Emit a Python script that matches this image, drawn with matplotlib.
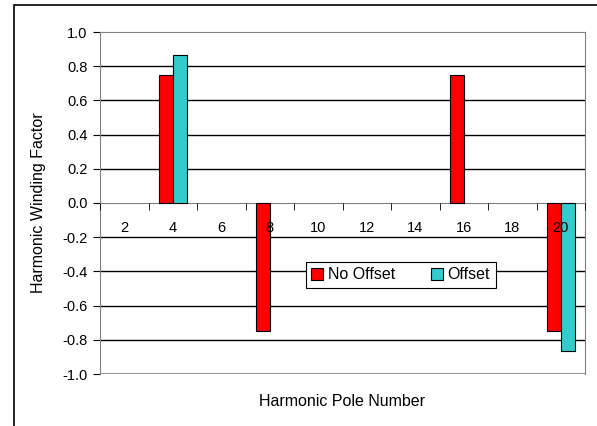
import numpy as np
import matplotlib
matplotlib.use("Agg")
import matplotlib.pyplot as plt
from matplotlib.patches import Rectangle

plt.rcParams['font.family'] = ['Liberation Sans', 'DejaVu Sans']

# harmonic pole numbers and winding factors
poles = [2, 4, 6, 8, 10, 12, 14, 16, 18, 20]
no_offset = [0, 0.75, 0, -0.75, 0, 0, 0, 0.75, 0, -0.75]
offset = [0, 0.866, 0, 0, 0, 0, 0, 0, 0, -0.866]

fig = plt.figure(figsize=(5.97, 4.26), dpi=100)
ax = fig.add_axes([100/597, 52/426, 485/597, 342/426])

x = np.arange(len(poles))
w = 0.29
# zero values are left out so no flat outline sits on the axis
for vals, off, col, lab in [(no_offset, -w/2, '#ff0000', 'No Offset'),
                            (offset, w/2, '#33cccc', 'Offset')]:
    vals = np.array(vals)
    keep = vals != 0
    ax.bar(x[keep] + off, vals[keep], w, color=col, edgecolor='black',
           linewidth=0.8, label=lab, zorder=3)

ax.set_xlim(-0.5, len(poles) - 0.5)
ax.set_ylim(-1.0, 1.0)
yt = np.round(np.arange(-1.0, 1.01, 0.2), 1)
ax.set_yticks(yt)
ax.set_yticklabels(['%.1f' % abs(v) if v == 0 else '%.1f' % v for v in yt])
for v in yt:
    if v != 0 and abs(v) < 1:
        ax.axhline(v, color='black', linewidth=1, zorder=1)
ax.axhline(1.0, color='#808080', linewidth=1.2, zorder=1)
ax.axhline(-1.0, color='#808080', linewidth=1.2, zorder=1)

# category axis crossing at zero
ax.spines['bottom'].set_position(('data', 0))
ax.spines['bottom'].set_color('#808080')
ax.spines['bottom'].set_zorder(2)
ax.spines['top'].set_color('#808080')
ax.spines['right'].set_color('#808080')
ax.spines['left'].set_color('#808080')
ax.set_xticks(x)
ax.set_xticklabels([str(p) for p in poles])
ax.set_xticks(np.arange(-0.5, len(poles), 1.0), minor=True)
ax.tick_params(axis='x', which='major', length=0, pad=13, labelsize=10.5)
ax.tick_params(axis='x', which='minor', length=5, direction='out', color='black')
ax.tick_params(axis='y', length=5, direction='out', color='black', labelsize=10.5, pad=4)
ax.xaxis.set_zorder(5)

ax.set_ylabel('Harmonic Winding Factor', fontsize=11.5, labelpad=12)
fig.text(342/597, 1 - 402/426, 'Harmonic Pole Number', ha='center', va='center', fontsize=11.5)

leg = ax.legend(loc='center', bbox_to_anchor=(0.62, 0.29), ncol=2, fontsize=11.5,
                frameon=True, fancybox=False, framealpha=1, edgecolor='black',
                handlelength=0.75, handleheight=0.75, handletextpad=0.3, columnspacing=2.2,
                borderpad=0.35)
leg.get_frame().set_linewidth(0.8)

fig.patches.append(Rectangle((14/597, -0.01), 1.0, 1 - 5/426 + 0.01, transform=fig.transFigure,
                             fill=False, edgecolor='black', linewidth=1.2))

fig.savefig('out.png', dpi=100)
